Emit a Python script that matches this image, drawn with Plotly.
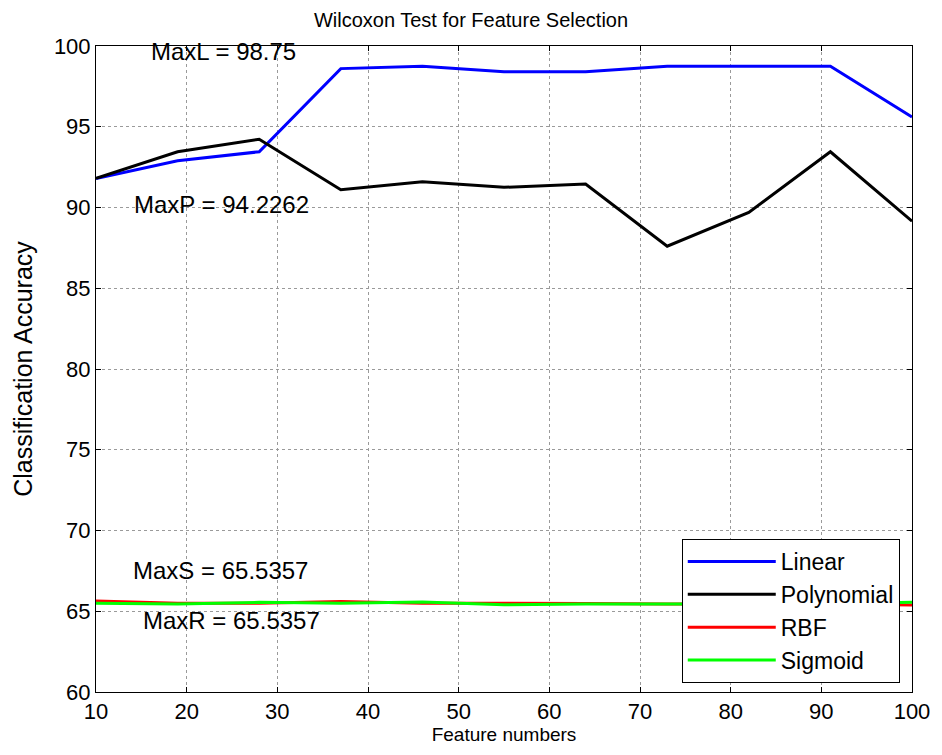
import plotly.graph_objects as go

features = [10, 19, 28, 37, 46, 55, 64, 73, 82, 91, 100]
linear = [91.8, 92.9, 93.45, 98.6, 98.75, 98.4, 98.4, 98.75, 98.75, 98.75, 95.6]
polynomial = [91.8, 93.45, 94.2262, 91.1, 91.6, 91.25, 91.45, 87.6, 89.7, 93.45, 89.15]
rbf = [65.63, 65.5, 65.5, 65.6, 65.5, 65.5, 65.48, 65.45, 65.45, 65.45, 65.38]
sigmoid = [65.5, 65.45, 65.55, 65.5, 65.57, 65.4, 65.45, 65.45, 65.45, 65.45, 65.55]

series_names = ["Linear", "Polynomial", "RBF", "Sigmoid"]
series_vals = [linear, polynomial, rbf, sigmoid]
series_colors = ["#0000FF", "#000000", "#FF0000", "#00FF00"]

ann_texts = ["MaxL = 98.75", "MaxP = 94.2262", "MaxS = 65.5357", "MaxR = 65.5357"]
ann_x = [15.9, 14.0, 13.9, 15.0]
ann_y = [99.63, 90.2, 67.55, 64.45]

FONT = "Liberation Sans, Arial, sans-serif"

fig = go.Figure()
for name, vals, col in zip(series_names, series_vals, series_colors):
    fig.add_trace(go.Scatter(x=features, y=vals, mode="lines", name=name,
                             line=dict(color=col, width=3)))

for t, xx, yy in zip(ann_texts, ann_x, ann_y):
    fig.add_annotation(x=xx, y=yy, text=t, showarrow=False, xanchor="left",
                       yanchor="middle", font=dict(size=24, color="black", family=FONT))

axis_common = dict(showline=True, linecolor="black", linewidth=1, mirror="allticks",
                   ticks="inside", ticklen=5, tickcolor="black",
                   showgrid=True, gridcolor="#9a9a9a", griddash="dot", gridwidth=1,
                   zeroline=False, tickfont=dict(size=22, color="black", family=FONT))

fig.update_layout(
    width=942, height=755,
    paper_bgcolor="white", plot_bgcolor="white",
    margin=dict(l=96, r=25, t=46, b=63),
    font=dict(family=FONT, color="black"),
    title=dict(text="Wilcoxon Test for Feature Selection", x=0.5, xanchor="center",
               y=1 - 20 / 755, yanchor="middle", font=dict(size=20, color="black", family=FONT)),
    xaxis=dict(range=[10, 100], dtick=10, tick0=10,
               title=dict(text="Feature numbers", font=dict(size=19, color="black", family=FONT), standoff=4),
               **axis_common),
    yaxis=dict(range=[60, 100], dtick=5, tick0=60,
               title=dict(text="Classification Accuracy", font=dict(size=25, color="black", family=FONT), standoff=14),
               **axis_common),
    legend=dict(x=0.985, y=0.014, xanchor="right", yanchor="bottom",
                bgcolor="white", bordercolor="black", borderwidth=1,
                font=dict(size=23, color="black", family=FONT),
                itemwidth=88, tracegroupgap=0),
)

fig.write_html("out.html")
